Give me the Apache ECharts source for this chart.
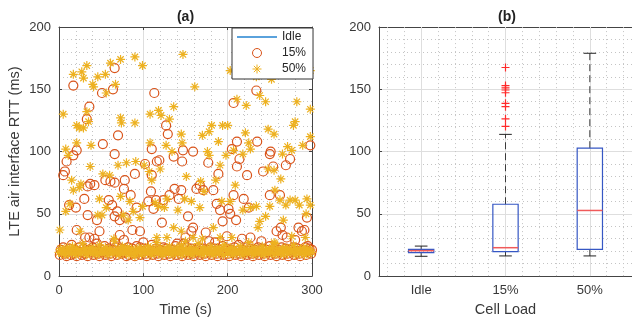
<!DOCTYPE html>
<html>
<head>
<meta charset="utf-8">
<script src="https://cdn.jsdelivr.net/npm/echarts@6/dist/echarts.min.js"></script>
<style>html,body{margin:0;padding:0;background:#fff;}#c{width:632px;height:322px;}</style>
</head>
<body>
<div id="c"></div>
<script>
// ---------- data ----------
const xTicks = [0, 100, 200, 300];
const yTicks = [0, 50, 100, 150, 200];
const seriesNames = ['Idle', '15%', '50%'];

// Idle: time (s) and RTT (ms)
const idleTime = [0,4,8,12,16,20,24,28,32,36,40,44,48,52,56,60,64,68,72,76,80,84,88,92,96,100,104,108,112,116,120,124,128,132,136,140,144,148,152,156,160,164,168,172,176,180,184,188,192,196,200,204,208,212,216,220,224,228,232,236,240,244,248,252,256,260,264,268,272,276,280,284,288,292,296,300];
const idleRtt = [19,20,18,21,19,17,20,22,19,18,17,20,21,19,18,20,22,19,18,21,20,19,17,20,21,19,20,18,21,19,20,22,18,19,21,20,18,19,22,20,19,21,18,20,19,21,20,18,19,22,20,19,18,21,20,19,17,20,21,19,20,18,21,19,20,22,19,18,20,21,17,19,20,18,21,20];

// 15% load: [time, RTT]
const load15High = [[17,153],[66,167],[64,150],[51,147],[113,147],[36,136],[33,126],[70,113],[52,106],[21,101],[110,102],[127,121],[129,114],[207,139],[234,149],[235,108],[211,108],[205,102],[251,100],[159,100],[147,101],[298,105],[66,98],
[5,81],[7,84],[9,92],[17,97],[34,72],[30,62],[37,74],[42,73],[45,45],[34,49],[20,55],[12,57],[55,77],[61,76],[66,75],[59,61],[63,57],[66,48],[69,52],[72,45],[77,70],[78,77],[79,47],[85,65],[90,82],[92,55],[87,37],[96,36],[102,90],[106,60],[109,68],[110,81],[112,54],[115,61],[116,92],[119,93],[122,43],[124,61],[131,65],[136,96],[137,70],[142,62],[145,69],[146,92],[153,48],[157,36],[163,70],[167,73],[171,69],[177,91],[183,69],[187,58],[189,82],[191,53],[194,44],[199,32],[201,54],[203,50],[207,65],[210,45],[211,88],[214,94],[217,30],[219,62],[223,81],[225,55],[227,31],[242,84],[250,98],[254,88],[250,65],[258,36],[262,65],[263,39],[265,33],[269,89],[274,94],[284,39],[288,36],[291,37],[294,47],[295,24],[31,31],[21,37],[36,31],[48,36],[72,33],[77,29],[100,27],[150,31],[159,39],[174,35],[270,31],[42,30],[140,26],[185,27],[240,28],[280,29]];
const load15Base = [[1,17],[2,21],[4,19],[5,23],[7,18],[9,16],[10,20],[12,22],[14,17],[15,25],[17,18],[19,21],[21,16],[22,20],[24,23],[26,19],[27,17],[29,22],[31,18],[33,20],[34,16],[36,21],[38,19],[40,23],[41,17],[43,20],[45,26],[47,18],[48,16],[50,21],[52,19],[54,24],[55,17],[57,20],[59,22],[61,18],[62,16],[64,21],[66,27],[68,23],[69,17],[71,20],[73,22],[75,18],[76,19],[78,21],[80,16],[82,23],[83,17],[85,20],[87,22],[89,18],[90,16],[92,24],[94,19],[96,23],[97,17],[99,20],[101,22],[103,18],[104,16],[106,21],[108,19],[110,25],[111,17],[113,20],[115,22],[117,18],[118,16],[120,21],[122,19],[124,23],[125,17],[127,22],[129,20],[131,18],[132,16],[134,21],[136,19],[138,24],[139,17],[141,20],[143,22],[145,18],[146,16],[148,26],[150,19],[152,23],[153,17],[155,20],[157,22],[159,18],[160,16],[162,21],[164,19],[166,23],[167,17],[169,20],[171,22],[173,18],[174,16],[176,21],[178,28],[180,23],[181,17],[183,20],[185,22],[187,18],[188,16],[190,21],[192,19],[194,24],[195,17],[197,20],[199,22],[201,18],[202,16],[204,21],[206,19],[208,23],[209,17],[211,20],[213,25],[215,18],[216,16],[218,21],[220,19],[222,23],[223,17],[225,20],[227,22],[229,18],[230,16],[232,21],[234,19],[236,23],[237,17],[239,20],[241,22],[243,18],[244,16],[246,21],[248,19],[250,24],[251,17],[253,20],[255,22],[257,18],[258,16],[260,21],[262,19],[264,23],[265,17],[267,20],[269,22],[271,18],[272,16],[274,21],[276,19],[278,23],[279,17],[281,20],[283,22],[285,18],[286,16],[288,21],[290,19],[292,23],[293,17],[295,20],[297,22],[299,18],[300,21]];

// 50% load: [time, RTT]
const load50High = [[147,178],[90,176],[61,171],[73,174],[33,169],[99,169],[27,164],[17,162],[46,160],[55,162],[29,159],[40,154],[41,152],[56,147],[67,154],[161,152],[203,165],[214,162],[234,160],[246,162],[252,158],[286,164],[298,165],[238,145],[245,140],[211,142],[222,137],[282,140],[298,134],[5,130],[33,132],[108,130],[118,133],[136,136],[121,129],[131,126],[21,121],[24,119],[29,119],[35,124],[73,127],[74,123],[90,123],[181,121],[194,121],[200,121],[221,115],[225,107],[248,118],[255,114],[170,113],[178,116],[278,121],[280,124],[298,112],[8,102],[11,97],[21,107],[38,105],[37,88],[108,107],[145,114],[146,107],[134,100],[127,105],[176,100],[178,97],[189,108],[198,97],[207,101],[218,98],[227,102],[248,86],[255,85],[265,98],[271,104],[289,105],[276,101],
[101,89],[107,84],[110,77],[120,86],[91,92],[80,91],[70,89],[52,82],[60,81],[15,77],[17,69],[26,74],[13,58],[24,71],[48,62],[46,49],[51,49],[56,55],[73,64],[76,49],[84,60],[88,52],[96,47],[99,56],[114,59],[118,56],[125,55],[128,62],[141,53],[149,62],[151,80],[157,60],[168,76],[172,68],[167,55],[183,39],[186,77],[191,89],[193,60],[203,60],[209,73],[218,53],[227,55],[234,56],[238,44],[245,48],[250,56],[256,69],[262,61],[263,78],[266,45],[269,57],[274,61],[280,61],[285,57],[293,50],[294,62],[298,57],[1,37],[25,36],[82,45],[116,31],[128,31],[136,39],[145,36],[159,31],[191,31],[205,31],[236,39],[276,32],[292,31],[8,52],[65,30],[150,28],[255,27],[170,30]];
const load50Base = [[0,19],[2,22],[3,18],[5,21],[6,20],[8,17],[10,23],[11,19],[13,21],[15,18],[16,24],[18,20],[20,17],[21,22],[23,19],[25,21],[26,18],[28,26],[30,20],[31,22],[33,17],[35,19],[36,21],[38,23],[40,18],[41,20],[43,22],[45,17],[46,19],[48,25],[50,21],[51,18],[53,20],[55,23],[56,19],[58,17],[60,22],[61,20],[63,18],[65,21],[66,28],[68,19],[70,22],[71,17],[73,20],[75,24],[76,18],[78,21],[80,19],[81,23],[83,17],[85,20],[86,22],[88,18],[90,16],[91,21],[93,19],[95,23],[96,20],[98,17],[100,22],[101,19],[103,21],[105,18],[106,24],[108,20],[110,17],[111,22],[113,19],[115,21],[116,27],[118,18],[120,23],[121,20],[123,17],[125,21],[126,19],[128,22],[130,18],[131,24],[133,20],[135,17],[136,21],[138,19],[140,23],[141,18],[143,20],[145,25],[146,17],[148,22],[150,19],[151,21],[153,18],[155,23],[156,20],[158,17],[160,22],[161,19],[163,21],[165,26],[166,18],[168,20],[170,23],[171,17],[173,21],[175,19],[176,22],[178,18],[180,24],[181,20],[183,17],[185,21],[186,19],[188,23],[190,18],[191,20],[193,22],[195,17],[196,25],[198,21],[200,18],[201,20],[203,23],[205,19],[206,17],[208,22],[210,20],[211,18],[213,21],[215,24],[216,19],[218,17],[220,22],[221,20],[223,18],[225,27],[226,21],[228,19],[230,23],[231,17],[233,20],[235,22],[236,18],[238,21],[240,19],[241,24],[243,17],[245,20],[246,22],[248,18],[250,21],[251,19],[253,23],[255,17],[256,26],[258,20],[260,18],[261,22],[263,19],[265,21],[266,17],[268,23],[270,20],[271,18],[273,22],[275,19],[276,21],[278,25],[280,17],[281,20],[283,22],[285,18],[286,21],[288,19],[290,23],[291,17],[293,20],[295,22],[296,18],[298,21],[300,19]];

// box plot (b)
const boxCategories = ['Idle', '15%', '50%'];
const boxLowerWhisker = [15.9, 16.2, 16.2];
const boxQ1 = [18.8, 19.6, 21.4];
const boxMedian = [20.4, 22.8, 52.7];
const boxQ3 = [21.4, 57.7, 102.7];
const boxUpperWhisker = [24.1, 113.8, 178.9];
const outliers15 = [167.5, 153.0, 151.2, 149.4, 147.2, 138.7, 136.0, 126.3, 120.2];
const boxMajorGrid = [1, 2, 3];
const boxMinorGrid = [0.6, 0.8, 1.2, 1.4, 1.6, 1.8, 2.2, 2.4, 2.6, 2.8, 3.2, 3.4];

// ---------- styles ----------
const FONT = "'Liberation Sans', Arial, Helvetica, sans-serif";
const AX = '#444444';
const TXT = '#383838';
const MAJ = '#dedede';
const MIN = '#c4c4c4';
const C_IDLE = '#5aa2dc';
const C_15 = '#d95319';
const C_50 = '#edb120';
const STAR = 'path://M5,0L5,10M0,5L10,5M1.5,1.5L8.5,8.5M1.5,8.5L8.5,1.5';
const PLUS = 'path://M5,0L5,10M0,5L10,5';

function valueAxis(grid, pos, min, max, interval, opts) {
  return Object.assign({
    type: 'value', gridIndex: grid, position: pos, min: min, max: max, interval: interval,
    axisLine: { show: true, onZero: false, lineStyle: { color: AX, width: 1 } },
    axisTick: { show: true, inside: true, length: 3, lineStyle: { color: AX } },
    axisLabel: { show: true, color: TXT, fontSize: 13, fontFamily: FONT, margin: 8 },
    splitLine: { show: false },
    minorTick: { show: false, splitNumber: 5 },
    minorSplitLine: { show: false }
  }, opts || {});
}
const gridLines = {
  splitLine: { show: true, lineStyle: { color: MAJ, width: 1 } },
  minorTick: { show: false, splitNumber: 5 },
  minorSplitLine: { show: true, lineStyle: { color: MIN, width: 1, type: [1, 3] } }
};
const noLabel = { axisLabel: { show: false } };

const chart = echarts.init(document.getElementById('c'), null, { renderer: 'canvas' });

const boxData = boxCategories.map((c, i) => [i + 1, boxLowerWhisker[i], boxQ1[i], boxMedian[i], boxQ3[i], boxUpperWhisker[i]]);
const BOX_HALF = 0.15, CAP_HALF = 0.075;

function renderBox(params, api) {
  const x = api.value(0);
  const lw = api.value(1), q1 = api.value(2), med = api.value(3), q3 = api.value(4), uw = api.value(5);
  const p = (a, b) => api.coord([a, b]);
  const line = (a, b, stroke, w, dash) => ({
    type: 'line',
    shape: { x1: a[0], y1: a[1], x2: b[0], y2: b[1] },
    style: { stroke: stroke, lineWidth: w, lineDash: dash || null, fill: null }
  });
  const tl = p(x - BOX_HALF, q3), br = p(x + BOX_HALF, q1);
  return {
    type: 'group',
    children: [
      line(p(x, q3), p(x, uw), '#3a3a3a', 1, [7, 4]),
      line(p(x, q1), p(x, lw), '#3a3a3a', 1, [7, 4]),
      line(p(x - CAP_HALF, uw), p(x + CAP_HALF, uw), '#222', 1),
      line(p(x - CAP_HALF, lw), p(x + CAP_HALF, lw), '#222', 1),
      { type: 'rect', shape: { x: tl[0], y: tl[1], width: br[0] - tl[0], height: br[1] - tl[1] },
        style: { fill: null, stroke: '#3657c4', lineWidth: 1.2 } },
      line(p(x - BOX_HALF, med), p(x + BOX_HALF, med), '#f05a5a', 1.5)
    ]
  };
}

const option = {
  animation: false,
  backgroundColor: '#ffffff',
  textStyle: { fontFamily: FONT },
  grid: [
    { left: 59, top: 27, width: 253, height: 252 },
    { left: 379, top: 27, width: 256, height: 252 }
  ],
  graphic: [
    { type: 'text', x: 185.5, y: 17, style: { text: '(a)', font: 'bold 14px ' + FONT, fill: '#222', textAlign: 'center', textVerticalAlign: 'middle' } },
    { type: 'text', x: 507, y: 17, style: { text: '(b)', font: 'bold 14px ' + FONT, fill: '#222', textAlign: 'center', textVerticalAlign: 'middle' } }
  ],
  legend: {
    data: [
      { name: 'Idle', itemStyle: { color: 'rgba(0,0,0,0)', borderColor: 'rgba(0,0,0,0)', borderWidth: 0, opacity: 0 },
        lineStyle: { color: C_IDLE, width: 2, opacity: 1 } },
      { name: '15%', itemStyle: { color: 'rgba(0,0,0,0)', borderColor: C_15, borderWidth: 1 } },
      { name: '50%', itemStyle: { color: 'rgba(0,0,0,0)', borderColor: C_50, borderWidth: 1 } }
    ],
    orient: 'vertical',
    left: 232, top: 28,
    itemWidth: 40, itemHeight: 9, itemGap: 4,
    padding: [3, 7, 4, 4],
    backgroundColor: '#ffffff',
    borderColor: '#333333', borderWidth: 1, borderRadius: 0,
    textStyle: { color: '#262626', fontSize: 12, fontFamily: FONT },
    z: 10
  },
  xAxis: [
    valueAxis(0, 'bottom', 0, 300, 100, Object.assign({
      name: 'Time (s)', nameLocation: 'middle', nameGap: 25,
      nameTextStyle: { color: TXT, fontSize: 14.5, fontFamily: FONT }
    }, gridLines)),
    valueAxis(0, 'top', 0, 300, 100, noLabel),
    {
      type: 'category', gridIndex: 1, position: 'bottom', data: boxCategories, boundaryGap: true,
      axisLine: { show: true, lineStyle: { color: AX, width: 1 } },
      axisTick: { show: true, inside: true, length: 3, alignWithLabel: true, lineStyle: { color: AX } },
      axisLabel: { color: TXT, fontSize: 13, fontFamily: FONT, margin: 8 },
      splitLine: { show: false },
      name: 'Cell Load', nameLocation: 'middle', nameGap: 25,
      nameTextStyle: { color: TXT, fontSize: 14.5, fontFamily: FONT }
    },
    {
      type: 'category', gridIndex: 1, position: 'top', data: boxCategories, boundaryGap: true,
      axisLine: { show: true, lineStyle: { color: AX, width: 1 } },
      axisTick: { show: true, inside: true, length: 3, alignWithLabel: true, lineStyle: { color: AX } },
      axisLabel: { show: false }, splitLine: { show: false }
    },
    { type: 'value', gridIndex: 1, position: 'bottom', min: 0.5, max: 3.5, show: false, splitLine: { show: false } }
  ],
  yAxis: [
    valueAxis(0, 'left', 0, 200, 50, Object.assign({
      name: 'LTE air interface RTT (ms)', nameLocation: 'middle', nameGap: 37,
      nameTextStyle: { color: TXT, fontSize: 14.5, fontFamily: FONT }
    }, gridLines)),
    valueAxis(0, 'right', 0, 200, 50, noLabel),
    valueAxis(1, 'left', 0, 200, 50, gridLines)
  ],
  series: [
    {
      name: 'Idle', type: 'line', xAxisIndex: 0, yAxisIndex: 0,
      data: idleTime.map((t, i) => [t, idleRtt[i]]),
      symbol: 'none', showSymbol: false, lineStyle: { color: C_IDLE, width: 1.2 }, itemStyle: { color: C_IDLE }, z: 2
    },
    {
      name: '15%', type: 'scatter', xAxisIndex: 0, yAxisIndex: 0,
      data: load15Base.concat(load15High),
      symbol: 'circle', symbolSize: 9,
      itemStyle: { color: 'rgba(0,0,0,0)', borderColor: C_15, borderWidth: 1.2, opacity: 1 }, z: 3
    },
    {
      name: '50%', type: 'scatter', xAxisIndex: 0, yAxisIndex: 0,
      data: load50Base.concat(load50High),
      symbol: STAR, symbolSize: 9, symbolKeepAspect: true,
      itemStyle: { color: 'rgba(0,0,0,0)', borderColor: C_50, borderWidth: 1.2, opacity: 1 }, z: 4
    },
    {
      type: 'custom', xAxisIndex: 4, yAxisIndex: 2, data: boxData,
      encode: { x: 0, y: [1, 2, 3, 4, 5] }, renderItem: renderBox, z: 5, silent: true
    },
    {
      type: 'scatter', xAxisIndex: 4, yAxisIndex: 2,
      data: outliers15.map(v => [2, v]),
      symbol: PLUS, symbolSize: 8, symbolKeepAspect: true,
      itemStyle: { color: 'rgba(0,0,0,0)', borderColor: '#ff2a2a', borderWidth: 1.2, opacity: 1 }, z: 6,
      markLine: {
        silent: true, symbol: ['none', 'none'], label: { show: false }, z: 1, animation: false,
        emphasis: { disabled: true },
        data: boxMajorGrid.map(v => ({ xAxis: v, lineStyle: { color: MAJ, width: 1, type: 'solid' } }))
          .concat(boxMinorGrid.map(v => ({ xAxis: v, lineStyle: { color: MIN, width: 1, type: [1, 3] } })))
      }
    }
  ]
};
chart.setOption(option);
</script>
</body>
</html>
